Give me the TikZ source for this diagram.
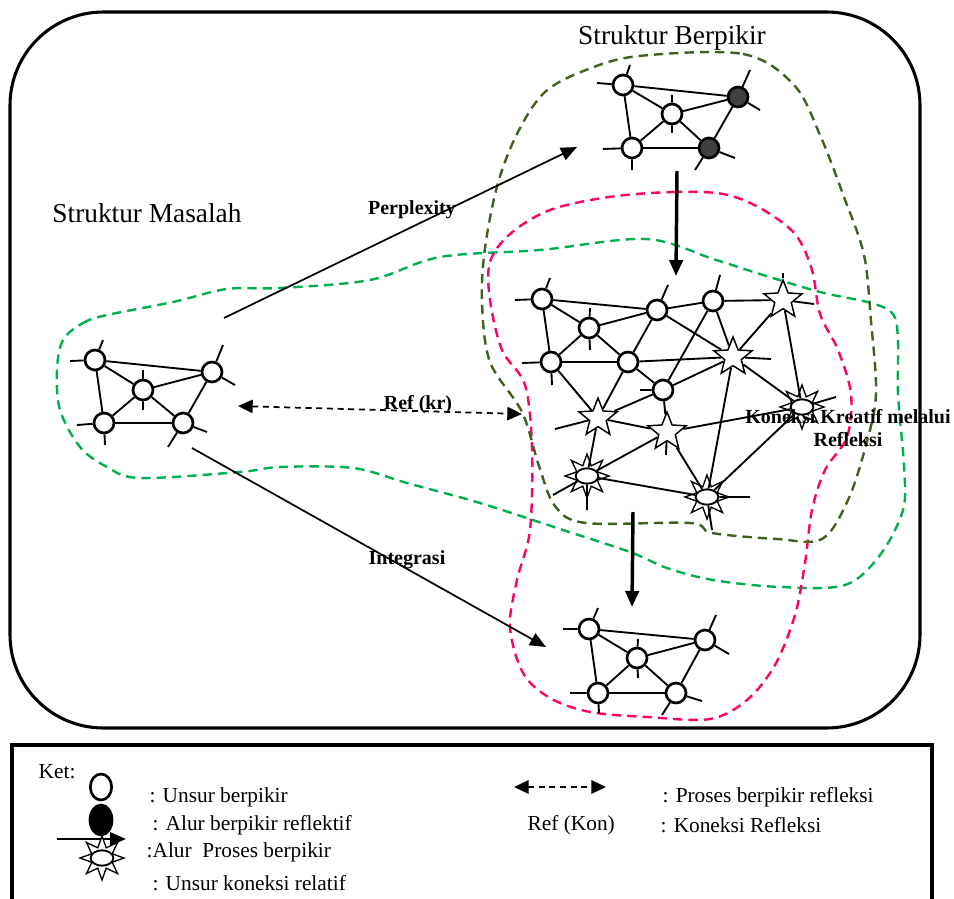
\documentclass[tikz,border=0pt]{standalone}
\usepackage{fontspec}
\setmainfont{Liberation Serif}
\usetikzlibrary{arrows.meta,shapes.geometric}

\definecolor{garisolive}{RGB}{64,96,32}
\definecolor{garispink}{RGB}{255,0,102}
\definecolor{garishijau}{RGB}{0,176,80}

\begin{document}
\begin{tikzpicture}[x=0.75pt,y=-0.75pt,>={Triangle[length=12pt,width=10pt]},
    unsur/.style={circle,draw,fill=white,line width=2pt,inner sep=0pt,minimum size=15pt},
    reflektif/.style={unsur,fill=black!75},
    bintang/.style={star,star points=5,star point ratio=2.3,draw,fill=white,line width=1.1pt,inner sep=0pt,minimum size=30pt},
    sinar/.style={star,star points=8,star point ratio=2,draw,fill=white,line width=1pt,inner sep=0pt,minimum size=33pt},
    koneksi/.style={ellipse,draw,fill=white,line width=1.4pt,inner sep=0pt,minimum width=17pt,minimum height=11.5pt},
    tepi/.style={line width=1.4pt},
    batas/.style={line width=1.8pt,dash pattern=on 7pt off 4.5pt},
    judul/.style={font=\fontsize{20.5}{24}\selectfont},
    tebal/.style={font=\fontsize{15}{17.3}\selectfont\bfseries},
    ket/.style={font=\fontsize{16}{19}\selectfont,anchor=west}]
  \useasboundingbox (0,0) rectangle (954,899);

  % batas putus-putus
  \draw[batas,garishijau] plot[smooth cycle,tension=0.55] coordinates {
    (63,340) (83,323) (107,315) (173,302) (227,289) (280,288) (370,280) (440,257)
    (540,250) (646,239) (713,259) (760,274) (820,292) (871,303) (893,314) (898,340)
    (898,394) (904,466) (903,510) (880,555) (845,585) (780,587) (713,580) (667,568)
    (630,552) (563,530) (480,503) (407,483) (353,468) (280,467) (240,472) (140,478)
    (107,467) (80,447) (60,410) (57,370)};
  \draw[batas,garispink] plot[smooth cycle,tension=0.55] coordinates {
    (609,197) (673,192) (723,194) (760,208) (795,234) (812,270) (820,314) (838,350)
    (851,394) (847,437) (825,470) (812,510) (805,563) (795,615) (775,665) (747,700)
    (710,719) (647,717) (590,712) (550,698) (523,673) (510,627) (517,580) (530,530)
    (532,448) (525,385) (502,350) (490,300) (490,262) (510,234) (550,210)};
  \draw[batas,garisolive] plot[smooth cycle,tension=0.55] coordinates {
    (639,56) (743,54) (794,85) (820,135) (844,197) (864,255) (871,321) (876,394)
    (866,445) (848,500) (822,539) (777,539) (712,533) (690,523) (586,523) (555,506)
    (539,466) (522,412) (490,362) (482,303) (485,248) (498,183) (518,132) (545,92)
    (586,70)};

  % kotak luar
  \draw[line width=2.3pt,rounded corners=70pt] (10,12) rectangle (920,728);

  \node[judul] (jb) at (672,38)  {Struktur Berpikir};
  \node[judul] (jm) at (147,213) {Struktur Masalah};

  % struktur masalah
  \node[unsur] (b1) at (95,360)  {};
  \node[unsur] (b2) at (143,390) {};
  \node[unsur] (b3) at (104,423) {};
  \node[unsur] (b4) at (212,372) {};
  \node[unsur] (b5) at (183,423) {};

  \path[tepi] (b1) edge (b4) edge (b2) edge (b3)
              (b2) edge (b4) edge (b3) edge (b5)
              (b3) edge (b5)
              (b4) edge (b5);
  \draw[tepi] (b1) -- ++(-25,1) (b1) -- ++(8,-20)
              (b2) -- ++(0,-20) (b2) -- ++(0,20)
              (b3) -- ++(-27,2) (b3) -- ++(1,22)
              (b4) -- ++(11,-27) (b4) -- ++(23,13)
              (b5) -- ++(-15,24) (b5) -- ++(24,9);

  % struktur berpikir atas
  \node[unsur]     (a1) at (623,85)  {};
  \node[unsur]     (a2) at (672,114) {};
  \node[unsur]     (a3) at (632,148) {};
  \node[reflektif] (a4) at (738,97)  {};
  \node[reflektif] (a5) at (709,148) {};

  \path[tepi] (a1) edge (a4) edge (a2) edge (a3)
              (a2) edge (a4) edge (a3) edge (a5)
              (a3) edge (a5)
              (a4) edge (a5);
  \draw[tepi] (a1) -- ++(-26,-2) (a1) -- ++(7,-20)
              (a2) -- ++(0,-19) (a2) -- ++(0,19)
              (a3) -- ++(-29,1) (a3) -- ++(0,22)
              (a4) -- ++(12,-27) (a4) -- ++(22,13)
              (a5) -- ++(-14,22) (a5) -- ++(26,10);

  % struktur berpikir tengah
  \node[unsur] (m1) at (542,299) {};
  \node[unsur] (m2) at (657,310) {};
  \node[unsur] (m3) at (713,301) {};
  \node[unsur] (m4) at (589,328) {};
  \node[unsur] (m5) at (551,362) {};
  \node[unsur] (m6) at (628,362) {};
  \node[unsur] (m7) at (663,390) {};
  \node[bintang] (s1) at (783,300) {};
  \node[bintang] (s2) at (733,357) {};
  \node[bintang] (s3) at (598,418) {};
  \node[bintang] (s4) at (667,432) {};
  \node[sinar]   (u1s) at (802,407) {};
  \node[koneksi] (u1)  at (802,407) {};
  \node[sinar]   (u2s) at (587,476) {};
  \node[koneksi] (u2)  at (587,476) {};
  \node[sinar]   (u3s) at (707,497) {};
  \node[koneksi] (u3)  at (707,497) {};

  \path[tepi] (m1) edge (m2) edge (m4) edge (m5)
              (m4) edge (m2) edge (m5) edge (m6)
              (m5) edge (m6) edge (s3)
              (m2) edge (m6) edge (m3) edge (s2)
              (m3) edge (s1) edge (m7) edge (s2)
              (m6) edge (m7) edge (s2) edge (s3)
              (m7) edge (s3) edge (s2) edge (s4)
              (s1) edge (s2) edge (u1)
              (s2) edge (u1) edge (u3)
              (s3) edge (s4) edge (u2)
              (s4) edge (u1) edge (u2) edge (u3)
              (u2) edge (u3)
              (u1) edge (u3);
  \draw[tepi] (m1) -- ++(-27,1) (m1) -- ++(8,-21)
              (m2) -- ++(11,-25)
              (m3) -- ++(7,-26)
              (m4) -- ++(1,-20) (m4) -- ++(1,22)
              (m5) -- ++(-29,1) (m5) -- ++(1,23)
              (m7) -- ++(-23,0)
              (s1) -- ++(0,-27) (s1) -- ++(31,4)
              (s2) -- ++(38,2)
              (s3) -- ++(-43,11)
              (s4) -- ++(-1,23)
              (u1) -- ++(34,-10)
              (u2) -- ++(-34,19) (u2) -- ++(0,34)
              (u3) -- ++(43,0) (u3) -- ++(5,33);

  % struktur berpikir bawah
  \node[unsur] (c1) at (589,629) {};
  \node[unsur] (c2) at (637,658) {};
  \node[unsur] (c3) at (598,693) {};
  \node[unsur] (c4) at (705,640) {};
  \node[unsur] (c5) at (676,693) {};

  \path[tepi] (c1) edge (c4) edge (c2) edge (c3)
              (c2) edge (c4) edge (c3) edge (c5)
              (c3) edge (c5)
              (c4) edge (c5);
  \draw[tepi] (c1) -- ++(-26,0) (c1) -- ++(9,-21)
              (c2) -- ++(1,-19) (c2) -- ++(1,20)
              (c3) -- ++(-28,0) (c3) -- ++(1,20)
              (c4) -- ++(11,-25) (c4) -- ++(24,14)
              (c5) -- ++(-14,22) (c5) -- ++(26,8);

  % alur
  \coordinate (p0) at (224,318);
  \coordinate (p1) at (577,147);
  \coordinate (i0) at (192,448);
  \coordinate (i1) at (546,647);
  \coordinate (r0) at (238,406);
  \coordinate (r1) at (522,414);
  \coordinate (t0) at (677,171);
  \coordinate (t1) at (676,276);
  \coordinate (k0) at (633,512);
  \coordinate (k1) at (632,607);

  \draw[->,line width=1.3pt] (p0) -- (p1);
  \draw[->,line width=1.3pt] (i0) -- (i1);
  \draw[{Triangle[length=11pt,width=10pt]}-{Triangle[length=11pt,width=10pt]},line width=1.3pt,dash pattern=on 4.5pt off 3.5pt] (r0) -- (r1);
  \draw[->,line width=2.6pt] (t0) -- (t1);
  \draw[->,line width=2.6pt] (k0) -- (k1);

  \node[tebal] (perp) at (412,210) {Perplexity};
  \node[tebal] (ref)  at (418,405) {Ref (kr)};
  \node[tebal] (intg) at (407,560) {Integrasi};
  \node[tebal,align=center] (kkr) at (848,428) {Koneksi Kreatif melalui\\Refleksi};

  % keterangan
  \draw[line width=2.6pt] (12,899) -- (12,745) -- (932,745) -- (932,899);

  \node[ket] (ket) at (34,772) {Ket:};
  \node[unsur,ellipse,minimum width=16pt,minimum height=19.5pt] (lg1) at (101,787) {};
  \node[unsur,ellipse,fill=black,minimum width=16.5pt,minimum height=22.5pt] (lg2) at (101,820) {};
  \coordinate (la0) at (57,839);
  \coordinate (la1) at (126,839);
  \draw[->,line width=1.8pt] (la0) -- (la1);
  \node[sinar]   (lg3s) at (102,858) {};
  \node[koneksi] (lg3)  at (102,858) {};

  \node[ket] (t1k) at (145,797) {: Unsur berpikir};
  \node[ket] (t2k) at (148,825) {: Alur berpikir reflektif};
  \node[ket] (t3k) at (142,852) {:Alur\ \ Proses berpikir};
  \node[ket] (t4k) at (148,883) {: Unsur koneksi relatif};

  \coordinate (ld0) at (514,787);
  \coordinate (ld1) at (606,787);
  \draw[{Triangle[length=11pt,width=10pt]}-{Triangle[length=11pt,width=10pt]},line width=1.6pt,dash pattern=on 4.5pt off 3.5pt] (ld0) -- (ld1);
  \node[ket] (t5k) at (658,797) {: Proses berpikir refleksi};
  \node[ket] (t6k) at (523,825) {Ref (Kon)};
  \node[ket] (t7k) at (656,825) {: Koneksi Refleksi};
\end{tikzpicture}
\end{document}
